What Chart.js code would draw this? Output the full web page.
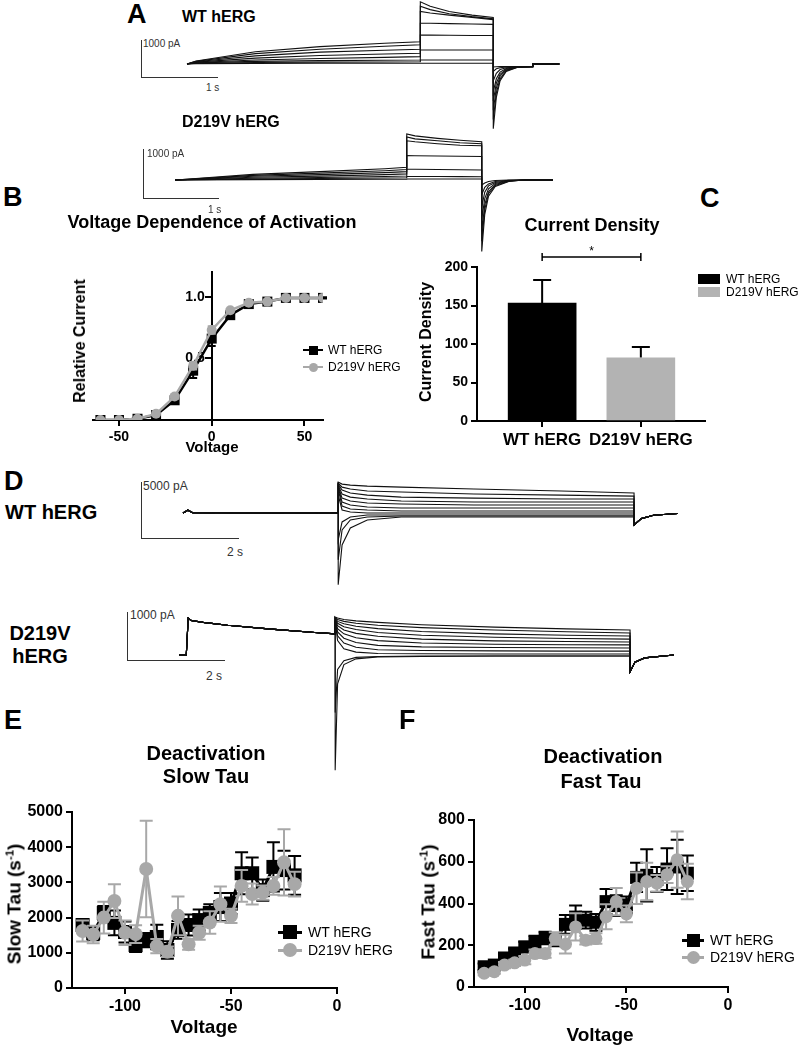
<!DOCTYPE html>
<html>
<head>
<meta charset="utf-8">
<title>hERG D219V</title>
<script src="https://cdn.jsdelivr.net/npm/chart.js@4.4.1/dist/chart.umd.min.js"></script>
<style>
  body { margin:0; width:800px; height:1049px; position:relative; overflow:hidden; background:#fff;
         font-family:"Liberation Sans", Arial, sans-serif; color:#000; }
  .t { position:absolute; white-space:nowrap; line-height:1; }
  canvas { position:absolute; }
  .sb { position:absolute; border-left:1px solid #333; border-bottom:1px solid #333; }
  .sw { position:absolute; }
  sup { font-size:0.6em; vertical-align:0.6em; line-height:0; }
</style>
</head>
<body>
<script>
const FONT = '"Liberation Sans", Arial, sans-serif';
const GRAY = '#a8a8a8';

// ---------- A: activation protocol sweeps (time s, current pA) ----------
const timesAwt = [0, 0.12, 0.9, 1.75, 2.6, 3.07, 3.07, 3.2, 3.45, 3.75, 4.03, 4.03, 4.07, 4.12, 4.2, 4.35, 4.55, 4.55, 4.9];
const tracesAwt = [
  [0, 80, 330, 470, 560, 600, 1680, 1560, 1420, 1320, 1260, -1750, -900, -450, -200, -90, -70, 0, 0],
  [0, 70, 280, 400, 480, 520, 1560, 1470, 1360, 1280, 1220, -1500, -780, -400, -180, -85, -70, 0, 0],
  [0, 60, 220, 320, 370, 400, 1420, 1380, 1320, 1260, 1200, -1250, -650, -330, -160, -80, -70, 0, 0],
  [0, 50, 160, 230, 270, 290, 1100, 1100, 1090, 1080, 1070, -1000, -520, -280, -140, -80, -70, 0, 0],
  [0, 40, 110, 150, 180, 200, 780, 780, 775, 770, 770, -750, -400, -220, -120, -80, -70, 0, 0],
  [0, 30, 70, 90, 100, 110, 380, 380, 380, 380, 380, -450, -250, -150, -100, -80, -70, 0, 0],
  [0, 20, 40, 50, 55, 60, 110, 110, 110, 110, 110, -200, -130, -100, -80, -70, -70, 0, 0],
  [0, 10, 15, 20, 20, 20, 20, 20, 20, 20, 20, -80, -75, -70, -70, -70, -70, 0, 0]
];
const timesAmut = [0, 0.1, 1.04, 1.93, 2.8, 3.09, 3.09, 3.2, 3.5, 3.8, 4.09, 4.09, 4.13, 4.18, 4.27, 4.45, 4.65, 5.04];
const tracesAmut = [
  [0, 10, 115, 170, 230, 258, 940, 900, 850, 810, 780, -1460, -700, -330, -130, -30, 0, 0],
  [0, 8, 95, 140, 190, 215, 880, 840, 800, 760, 740, -1250, -600, -280, -110, -25, 0, 0],
  [0, 6, 75, 110, 150, 170, 800, 780, 740, 710, 700, -1050, -500, -240, -90, -20, 0, 0],
  [0, 5, 55, 80, 110, 125, 500, 495, 490, 485, 480, -800, -380, -180, -70, -15, 0, 0],
  [0, 4, 35, 50, 70, 80, 220, 218, 215, 210, 205, -550, -250, -120, -50, -10, 0, 0],
  [0, 3, 20, 30, 40, 45, 70, 70, 70, 68, 65, -300, -150, -80, -30, -5, 0, 0],
  [0, 2, 8, 12, 15, 18, 20, 20, 20, 20, 20, -100, -60, -30, -10, 0, 0, 0]
];

// ---------- D: deactivation protocol sweeps ----------
const timesDwt = [0, 0.1, 0.2, 3.2, 3.2, 3.28, 3.45, 3.8, 4.5, 6, 7.8, 9.3, 9.3, 9.45, 9.7, 10.2];
const preDwt = [0, 250, 30, 0];
const tailsDwt = [
  [2760, 2580, 2490, 2400, 2310, 2140, 1960, 1780],
  [2670, 2310, 2140, 1960, 1870, 1690, 1600, 1510],
  [2580, 2050, 1780, 1600, 1420, 1330, 1250, 1250],
  [2490, 1690, 1420, 1250, 1070, 980, 980, 980],
  [2400, 1330, 1070, 890, 800, 710, 710, 710],
  [2310, 980, 710, 530, 445, 445, 445, 445],
  [2140, 620, 360, 270, 180, 180, 180, 180],
  [1600, 270, 90, 0, 0, 0, 0, 0],
  [-2400, -800, -360, -180, -180, -180, -180, -180],
  [-4180, -1510, -620, -360, -270, -270, -270, -270],
  [-6400, -2850, -1330, -620, -360, -360, -360, -360]
];
const postDwt = [-1070, -500, -200, -50];

const timesDmut = [0, 0.15, 0.19, 0.25, 0.5, 1.0, 1.9, 2.8, 3.22, 3.22, 3.27, 3.4, 3.65, 4.1, 5, 6.5, 8, 9.3, 9.3, 9.4, 9.6, 10.2];
const preDmut = [0, 0, 770, 720, 680, 620, 540, 470, 440];
const tailsDmut = [
  [790, 770, 740, 710, 680, 630, 580, 545, 520],
  [780, 740, 700, 660, 620, 570, 520, 485, 460],
  [770, 700, 650, 600, 550, 490, 440, 410, 395],
  [760, 660, 590, 530, 470, 410, 370, 345, 330],
  [750, 610, 520, 450, 390, 330, 295, 280, 270],
  [740, 550, 440, 360, 300, 250, 225, 215, 210],
  [730, 480, 350, 260, 200, 170, 155, 150, 145],
  [720, 400, 250, 160, 110, 95, 85, 80, 80],
  [700, 300, 130, 60, 30, 25, 20, 20, 20],
  [-2400, -600, -200, -80, -40, -30, -20, -20, -20],
  [-1200, -300, -120, -50, -30, -20, -20, -20, -20]
];
const postDmut = [-350, -150, -60, 0];

// ---------- B: voltage dependence of activation ----------
const actVolt = [-60, -50, -40, -30, -20, -10, 0, 10, 20, 30, 40, 50, 60];
const actWT = [0, 0, 0.01, 0.04, 0.16, 0.40, 0.66, 0.85, 0.94, 0.96, 0.99, 0.99, 0.99];
const actWTerr = [0, 0, 0, 0.01, 0.02, 0.06, 0.06, 0.02, 0.01, 0.01, 0.005, 0.005, 0.005];
const actMut = [0, 0, 0.01, 0.05, 0.19, 0.44, 0.73, 0.89, 0.95, 0.96, 0.99, 0.99, 0.99];
const actMutErr = [0, 0, 0, 0.01, 0.02, 0.03, 0.03, 0.01, 0.01, 0, 0, 0, 0];

// ---------- C: current density ----------
const densGroups = ['WT hERG', 'D219V hERG'];
const densMean = [153, 82];
const densErr = [30, 14];

// ---------- E/F: deactivation taus ----------
const tauVolt = [-120, -115, -110, -105, -100, -95, -90, -85, -80, -75, -70, -65, -60, -55, -50, -45, -40, -35, -30, -25, -20];
const slowWT = [1790, 1560, 2130, 1850, 1590, 1220, 1360, 1450, 1080, 1650, 1790, 1930, 2130, 2300, 2400, 3260, 3260, 2780, 3440, 3350, 3200];
const slowWTerr = [150, 200, 200, 350, 300, 200, 200, 350, 250, 250, 300, 300, 250, 400, 300, 600, 450, 300, 700, 550, 550];
const slowMut = [1620, 1520, 2000, 2470, 1570, 1530, 3380, 1190, 1030, 2050, 1240, 1570, 1860, 2380, 2050, 2900, 2670, 2710, 2900, 3570, 2950];
const slowMutErr = [300, 250, 450, 480, 350, 250, 1370, 200, 150, 550, 150, 200, 320, 500, 200, 450, 300, 200, 250, 940, 350];
const fastWT = [97, 105, 139, 163, 192, 215, 235, 225, 300, 335, 320, 310, 409, 390, 393, 525, 535, 515, 565, 575, 545];
const fastWTerr = [15, 15, 20, 20, 25, 30, 30, 30, 45, 55, 40, 40, 60, 50, 40, 70, 125, 60, 100, 130, 85];
const fastMut = [66, 73, 105, 116, 129, 160, 160, 232, 205, 288, 224, 232, 337, 409, 350, 473, 505, 497, 538, 610, 505];
const fastMutErr = [10, 10, 15, 15, 20, 20, 20, 30, 45, 65, 20, 25, 60, 65, 40, 75, 90, 40, 40, 135, 85];

// ---------- helpers ----------
function txt(s, x, base, size, o) {
  o = o || {};
  const d = document.createElement('div');
  d.className = 't';
  d.innerHTML = s;
  d.style.fontSize = size + 'px';
  d.style.fontWeight = o.normal ? 'normal' : 'bold';
  d.style.left = x + 'px';
  d.style.top = (base - 0.8465 * size) + 'px';
  if (o.center) d.style.transform = 'translateX(-50%)';
  if (o.color) d.style.color = o.color;
  document.body.appendChild(d);
}
function vtxt(s, cx, cy, size) {
  const d = document.createElement('div');
  d.className = 't';
  d.innerHTML = s;
  d.style.fontSize = size + 'px';
  d.style.fontWeight = 'bold';
  d.style.left = cx + 'px';
  d.style.top = cy + 'px';
  d.style.transform = 'translate(-50%,-50%) rotate(-90deg)';
  document.body.appendChild(d);
}
function div(cls, l, t, w, h, css) {
  const d = document.createElement('div');
  d.className = cls;
  d.style.left = l + 'px'; d.style.top = t + 'px';
  d.style.width = w + 'px'; d.style.height = h + 'px';
  Object.assign(d.style, css || {});
  document.body.appendChild(d);
  return d;
}
function addCanvas(box) {
  const c = document.createElement('canvas');
  c.width = box[2]; c.height = box[3];
  c.style.left = box[0] + 'px'; c.style.top = box[1] + 'px';
  document.body.appendChild(c);
  return c;
}

// sweeps drawn as plain black lines on hidden linear axes
function traceChart(box, t0, pxPerSec, base, paPerPx, times, traces) {
  new Chart(addCanvas(box), {
    type: 'line',
    data: {
      datasets: traces.map(tr => ({
        data: tr.map((v, i) => ({ x: times[i], y: v })),
        borderColor: '#111', borderWidth: 1.1, pointRadius: 0, tension: 0, fill: false
      }))
    },
    options: {
      responsive: false, animation: false, events: [],
      layout: { padding: 0 },
      plugins: { legend: { display: false }, tooltip: { enabled: false } },
      scales: {
        x: { type: 'linear', display: false, min: (box[0] - t0) / pxPerSec, max: (box[0] + box[2] - t0) / pxPerSec },
        y: { type: 'linear', display: false, min: (base - box[1] - box[3]) * paPerPx, max: (base - box[1]) * paPerPx }
      }
    }
  });
}

const errorBars = {
  id: 'errorBars',
  beforeDatasetDraw(chart, args) {
    const ds = chart.data.datasets[args.index];
    if (!ds.errors) return;
    const ctx = chart.ctx, ys = chart.scales.y;
    ctx.save();
    ctx.strokeStyle = ds.errColor;
    ctx.lineWidth = ds.errWidth;
    args.meta.data.forEach((el, i) => {
      const e = ds.errors[i];
      if (!e) return;
      const v = ds.data[i].y;
      const top = ys.getPixelForValue(v + e);
      const bot = ds.errUp ? ys.getPixelForValue(v) : ys.getPixelForValue(v - e);
      const h = ds.capWidth / 2;
      ctx.beginPath();
      ctx.moveTo(el.x, top); ctx.lineTo(el.x, bot);
      ctx.moveTo(el.x - h, top); ctx.lineTo(el.x + h, top);
      if (!ds.errUp) { ctx.moveTo(el.x - h, bot); ctx.lineTo(el.x + h, bot); }
      ctx.stroke();
    });
    ctx.restore();
  }
};

function axis(a, kind, size, fontSize) {
  return {
    type: 'linear', min: a.min, max: a.max,
    position: a.position || (kind === 'x' ? 'bottom' : 'left'),
    offset: false,
    afterBuildTicks: s => { s.ticks = a.ticks.map(v => ({ value: v })); },
    afterFit: s => { if (kind === 'x') s.height = size; else s.width = size; },
    grid: { drawOnChartArea: false, drawTicks: true, tickLength: 6, color: '#000', lineWidth: 2, offset: false },
    border: { display: true, color: '#000', width: 2 },
    ticks: { color: '#000', font: { family: FONT, size: fontSize, weight: 'bold' }, padding: 3,
             maxRotation: 0, autoSkip: false, callback: a.label || (v => String(v)) }
  };
}

// box = canvas [left, top, w, h]; area = wanted plot area [left, top, right, bottom]
function xyChart(box, area, o) {
  const pad = {
    left: area[0] - box[0] - o.yw, top: area[1] - box[1],
    right: box[0] + box[2] - area[2], bottom: box[1] + box[3] - area[3] - o.xh
  };
  return new Chart(addCanvas(box), {
    type: o.type || 'line',
    data: { datasets: o.datasets },
    options: {
      responsive: false, animation: false, events: [],
      layout: { padding: pad },
      plugins: { legend: { display: false }, tooltip: { enabled: false } },
      scales: { x: axis(o.x, 'x', o.xh, o.xFont), y: axis(o.y, 'y', o.yw, o.yFont) }
    },
    plugins: [errorBars].concat(o.extra || [])
  });
}

function series(xs, ys, errs, wt, r, lw, cap) {
  return {
    data: xs.map((v, i) => ({ x: v, y: ys[i] })), errors: errs,
    borderColor: wt ? '#000' : GRAY, backgroundColor: wt ? '#000' : GRAY,
    borderWidth: lw, pointStyle: wt ? 'rect' : 'circle',
    pointRadius: wt ? r * 1.414 : r, pointBorderWidth: 0, tension: 0,
    order: wt ? 2 : 1, errColor: wt ? '#000' : GRAY, errWidth: 2, capWidth: cap
  };
}

function lineLegend(x, w, gapText, entries, size, fs) {
  entries.forEach(e => {
    div('sw', x, e.yc - e.lw / 2, w, e.lw, { background: e.color });
    div('sw', x + w / 2 - size / 2, e.yc - size / 2, size, size,
        { background: e.color, borderRadius: e.circle ? '50%' : '0' });
    txt(e.label, x + w + gapText, e.yc + fs * 0.36, fs, { normal: true });
  });
}

// ---------- panel A ----------
txt('A', 127, 24, 27);
txt('WT hERG', 182, 23, 16);
div('sb', 141, 40, 76, 37);
txt('1000 pA', 143, 47, 10, { normal: true, color: '#333' });
txt('1 s', 206, 91, 10, { normal: true, color: '#333' });
traceChart([180, 0, 390, 140], 187, 76, 64, 1000 / 37, timesAwt, tracesAwt);

txt('D219V hERG', 182, 128, 16);
div('sb', 143, 149, 75, 49);
txt('1000 pA', 147, 157, 10, { normal: true, color: '#333' });
txt('1 s', 208, 213, 10, { normal: true, color: '#333' });
traceChart([165, 110, 400, 150], 175, 75, 180, 1000 / 49, timesAmut, tracesAmut);

// ---------- panel B ----------
txt('B', 3, 207, 27);
txt('Voltage Dependence of Activation', 212, 228, 18, { center: true });
xyChart([40, 255, 320, 210], [93, 272, 323, 420], {
  yw: 0, xh: 25, xFont: 14, yFont: 14,
  x: { min: -64, max: 60, ticks: [-50, 0, 50] },
  // y axis crosses at x = 0; labels sit right-aligned on the line, so pad them off it
  y: { min: 0, max: 1.2, ticks: [0.5, 1.0], position: { x: 0 }, label: v => v.toFixed(1) + '\u2002' },
  datasets: [
    series(actVolt, actWT, actWTerr, true, 5, 2.5, 8),
    series(actVolt, actMut, actMutErr, false, 5, 2.5, 8)
  ]
});
vtxt('Relative Current', 80, 341, 16);
txt('Voltage', 212, 452, 15, { center: true });
lineLegend(303, 20, 5, [
  { label: 'WT hERG', yc: 350, color: '#000', lw: 2.5 },
  { label: 'D219V hERG', yc: 367, color: GRAY, lw: 2.5, circle: true }
], 9, 12);

// ---------- panel C ----------
txt('C', 700, 208, 27);
txt('Current Density', 592, 231, 18, { center: true });
const sigBracket = {
  id: 'sigBracket',
  afterDraw(chart) {
    const ctx = chart.ctx, xs = chart.scales.x, ys = chart.scales.y;
    const x1 = xs.getPixelForValue(1), x2 = xs.getPixelForValue(2), y = ys.getPixelForValue(213);
    ctx.save();
    ctx.strokeStyle = '#000'; ctx.lineWidth = 1.5;
    ctx.beginPath();
    ctx.moveTo(x1, y); ctx.lineTo(x2, y);
    ctx.moveTo(x1, y - 4); ctx.lineTo(x1, y + 4);
    ctx.moveTo(x2, y - 4); ctx.lineTo(x2, y + 4);
    ctx.stroke();
    ctx.fillStyle = '#000'; ctx.font = '12px ' + FONT; ctx.textAlign = 'center';
    ctx.fillText('*', (x1 + x2) / 2, y - 2);
    ctx.restore();
  }
};
xyChart([380, 240, 420, 215], [477, 267, 705, 421], {
  type: 'bar', yw: 40, xh: 30, xFont: 17, yFont: 14,
  x: { min: 0.34, max: 2.65, ticks: [1, 2], label: v => densGroups[v - 1] },
  y: { min: 0, max: 200, ticks: [0, 50, 100, 150, 200] },
  datasets: [{
    data: densGroups.map((g, i) => ({ x: i + 1, y: densMean[i] })),
    errors: densErr, errUp: true, errColor: '#000', errWidth: 2, capWidth: 18,
    backgroundColor: ['#000', '#b3b3b3'], barThickness: 68, borderWidth: 0
  }],
  extra: [sigBracket]
});
vtxt('Current Density', 426, 342, 16);
div('sw', 698, 274, 22, 10, { background: '#000' });
txt('WT hERG', 726, 283, 12, { normal: true });
div('sw', 698, 287, 22, 10, { background: '#b3b3b3' });
txt('D219V hERG', 726, 296, 12, { normal: true });

// ---------- panel D ----------
txt('D', 4, 491, 27);
txt('WT hERG', 5, 519, 20);
div('sb', 141, 482, 97, 56);
txt('5000 pA', 143, 490, 12, { normal: true, color: '#333' });
txt('2 s', 227, 556, 12, { normal: true, color: '#333' });
traceChart([170, 470, 515, 125], 183, 48.5, 513, 5000 / 56, timesDwt,
  tailsDwt.map(t => preDwt.concat(t, postDwt)));

txt('D219V', 40, 640, 20, { center: true });
txt('hERG', 40, 663, 20, { center: true });
div('sb', 127, 612, 97, 48);
txt('1000 pA', 130, 619, 12, { normal: true, color: '#333' });
txt('2 s', 206, 680, 12, { normal: true, color: '#333' });
traceChart([170, 600, 515, 180], 179, 48.5, 655, 1000 / 48, timesDmut,
  tailsDmut.map(t => preDmut.concat(t, postDmut)));

// ---------- panel E ----------
txt('E', 4, 730, 27);
txt('Deactivation', 206, 760, 20, { center: true });
txt('Slow Tau', 206, 783, 20, { center: true });
xyChart([0, 795, 370, 250], [72, 812, 337, 988], {
  yw: 60, xh: 30, xFont: 16, yFont: 16,
  x: { min: -125, max: 0, ticks: [-100, -50, 0] },
  y: { min: 0, max: 5000, ticks: [0, 1000, 2000, 3000, 4000, 5000] },
  datasets: [
    series(tauVolt, slowWT, slowWTerr, true, 7, 3, 13),
    series(tauVolt, slowMut, slowMutErr, false, 7, 3, 13)
  ]
});
vtxt('Slow Tau (s<sup>-1</sup>)', 14, 904, 19);
txt('Voltage', 204, 1033, 19, { center: true });
lineLegend(278, 24, 6, [
  { label: 'WT hERG', yc: 932, color: '#000', lw: 3 },
  { label: 'D219V hERG', yc: 950, color: GRAY, lw: 3, circle: true }
], 14, 14);

// ---------- panel F ----------
txt('F', 399, 730, 27);
txt('Deactivation', 603, 763, 20, { center: true });
txt('Fast Tau', 601, 788, 20, { center: true });
xyChart([370, 800, 430, 245], [474, 820, 728, 987], {
  yw: 50, xh: 30, xFont: 16, yFont: 16,
  x: { min: -125, max: 0, ticks: [-100, -50, 0] },
  y: { min: 0, max: 800, ticks: [0, 200, 400, 600, 800] },
  datasets: [
    series(tauVolt, fastWT, fastWTerr, true, 6.5, 3, 13),
    series(tauVolt, fastMut, fastMutErr, false, 6.5, 3, 13)
  ]
});
vtxt('Fast Tau (s<sup>-1</sup>)', 428, 902, 19);
txt('Voltage', 600, 1041, 19, { center: true });
lineLegend(682, 22, 6, [
  { label: 'WT hERG', yc: 940, color: '#000', lw: 3 },
  { label: 'D219V hERG', yc: 957, color: GRAY, lw: 3, circle: true }
], 13, 14);
</script>
</body>
</html>
